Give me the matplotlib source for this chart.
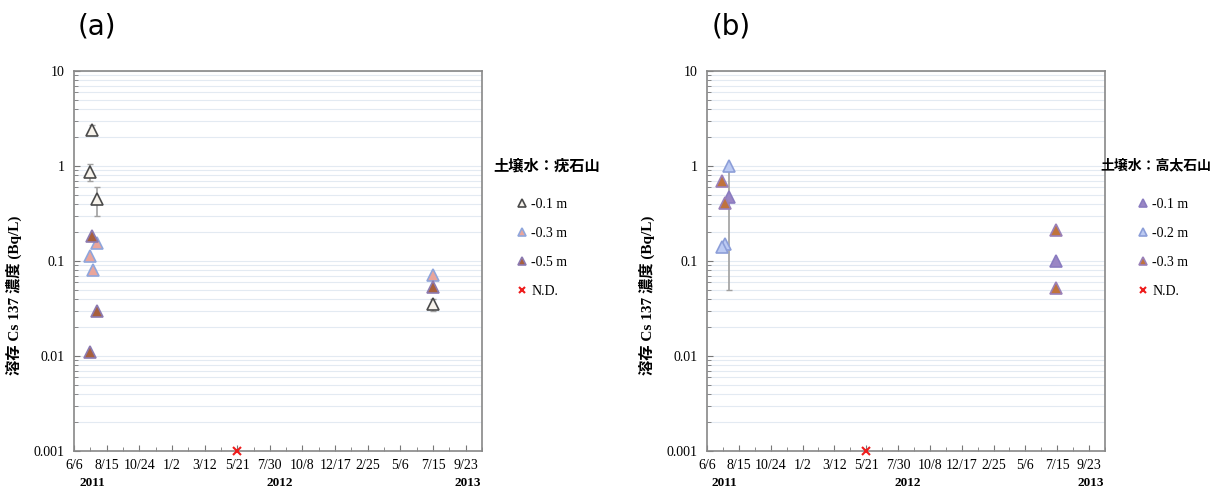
import matplotlib
matplotlib.use("Agg")
import matplotlib.pyplot as plt
import matplotlib.transforms as mtransforms
import pandas as pd
from matplotlib.ticker import FixedLocator, FuncFormatter, LogLocator, NullFormatter
import matplotlib.dates as mdates

plt.rcParams['font.family'] = ['Liberation Serif', 'Noto Sans CJK JP']

# (a) 疣石山
a_d01 = ['2011-07-15', '2011-07-10', '2011-07-25', '2013-07-14']
a_v01 = [2.4, 0.87, 0.45, 0.035]
a_e01 = [0.3, 0.17, 0.15, 0.005]
a_d03 = ['2011-07-10', '2011-07-16', '2011-07-25', '2013-07-14']
a_v03 = [0.113, 0.081, 0.155, 0.071]
a_d05 = ['2011-07-15', '2011-07-25', '2011-07-10', '2013-07-14']
a_v05 = [0.183, 0.030, 0.011, 0.053]
a_nd = ['2012-05-21']

# (b) 高太石山
b_d01 = ['2011-07-24', '2013-07-12']
b_v01 = [0.47, 0.10]
b_e01 = [0.42, 0.0]
b_d02 = ['2011-07-24', '2011-07-15', '2011-07-10']
b_v02 = [1.0, 0.15, 0.14]
b_d03 = ['2011-07-10', '2011-07-15', '2013-07-12', '2013-07-12']
b_v03 = [0.70, 0.41, 0.21, 0.052]
b_nd = ['2012-05-21']

tick_dates = pd.date_range('2011-06-06', periods=13, freq='70D')
minor_dates = pd.date_range('2011-06-06', periods=26, freq='35D')
years = ['2011', '2012', '2013']
year_pos = ['2011-07-15', '2012-08-20', '2013-09-27']

W, H = 1223, 490
fig = plt.figure(figsize=(W / 100, H / 100), dpi=100)
ax_a = fig.add_axes([74 / W, 1 - 451 / H, 408 / W, 380 / H])
ax_b = fig.add_axes([707 / W, 1 - 451 / H, 398 / W, 380 / H])


def setup(ax, ylab_x):
    ax.set_yscale('log')
    ax.set_ylim(0.001, 10)
    ax.set_xlim(pd.Timestamp('2011-06-06'), pd.Timestamp('2013-10-28'))
    ax.xaxis.set_major_locator(FixedLocator(mdates.date2num(tick_dates)))
    ax.xaxis.set_minor_locator(FixedLocator(mdates.date2num(minor_dates)))
    ax.xaxis.set_major_formatter(FuncFormatter(
        lambda v, p: f"{mdates.num2date(v).month}/{mdates.num2date(v).day}"))
    ax.yaxis.set_major_locator(LogLocator(base=10, numticks=10))
    ax.yaxis.set_minor_locator(LogLocator(base=10, subs=range(2, 10), numticks=10))
    ax.yaxis.set_minor_formatter(NullFormatter())
    ax.yaxis.set_major_formatter(FuncFormatter(lambda v, p: f"{v:g}"))
    ax.grid(True, which='both', axis='y', color='#e3eaf2', lw=0.8)
    ax.set_axisbelow(True)
    ax.tick_params(which='both', direction='in', color='#777777', labelsize=10)
    ax.tick_params(which='major', length=4)
    ax.tick_params(which='minor', length=3)
    ax.tick_params(axis='x', pad=6)
    ax.tick_params(axis='y', pad=7)
    for s in ax.spines.values():
        s.set_color('#888888')
        s.set_linewidth(1.2)
    ax.set_ylabel('溶存 Cs 137 濃度 (Bq/L)', fontsize=11, fontweight='bold')
    ax.yaxis.set_label_coords(ylab_x, 0.41)
    trans = mtransforms.blended_transform_factory(ax.transData, ax.transAxes)
    for yr, xp in zip(years, year_pos):
        ax.text(pd.Timestamp(xp), -0.084, yr, transform=trans, ha='center', va='center',
                fontsize=9.5, fontweight='bold')


def series(ax, dates, vals, fc, ec, label, yerr=None):
    x = pd.to_datetime(dates)
    if yerr is not None:
        ax.errorbar(x, vals, yerr=yerr, fmt='none', ecolor='#a0a0a0', elinewidth=1.2,
                    capsize=2, zorder=2)
    ax.plot(x, vals, ls='none', marker='^', ms=8, mfc=fc, mec=ec, mew=1.2,
            label=label, zorder=3)


def nd(ax, dates):
    ax.plot(pd.to_datetime(dates), [0.001] * len(dates), ls='none', marker='x', ms=6,
            mew=1.5, color='#ee1c1c', clip_on=False, label='N.D.', zorder=4)


def legend(ax, handles, labels, left_px, title, title_px, title_size):
    ax.legend(handles, labels, loc='upper left', bbox_to_anchor=(left_px / W, 1 - 198 / H),
              bbox_transform=fig.transFigure, frameon=False, fontsize=10,
              markerscale=0.7, handlelength=0.6, handletextpad=0.35, labelspacing=1.16,
              borderpad=0, borderaxespad=0)
    fig.text(title_px / W, 1 - 165 / H, title, family='Noto Sans CJK JP', fontweight='bold',
             fontsize=title_size, ha='left', va='center')


setup(ax_a, -52 / 408)
series(ax_a, a_d01, a_v01, '#f7f3ec', '#4a4a4a', '-0.1 m', yerr=a_e01)
series(ax_a, a_d03, a_v03, '#e9a59b', '#8fa6dc', '-0.3 m')
series(ax_a, a_d05, a_v05, '#a8603c', '#8c7ab0', '-0.5 m')
nd(ax_a, a_nd)
h, l = ax_a.get_legend_handles_labels()
legend(ax_a, h, l, 518, '土壌水：疣石山', 493, 11)

setup(ax_b, -52 / 398)
series(ax_b, b_d02, b_v02, '#bccaf2', '#8c9ed8', '-0.2 m')
series(ax_b, b_d01, b_v01, '#9a86c4', '#8a7cc0', '-0.1 m', yerr=b_e01)
series(ax_b, b_d03, b_v03, '#c0733c', '#9a80b8', '-0.3 m')
nd(ax_b, b_nd)
h, l = ax_b.get_legend_handles_labels()
order = [1, 0, 2, 3]
legend(ax_b, [h[i] for i in order], [l[i] for i in order], 1139, '土壌水：高太石山', 1100, 10)

fig.text(78 / W, 1 - 27 / H, '(a)', fontsize=20, family='DejaVu Sans', va='center')
fig.text(712 / W, 1 - 27 / H, '(b)', fontsize=20, family='DejaVu Sans', va='center')

fig.savefig('out.png', dpi=100)
